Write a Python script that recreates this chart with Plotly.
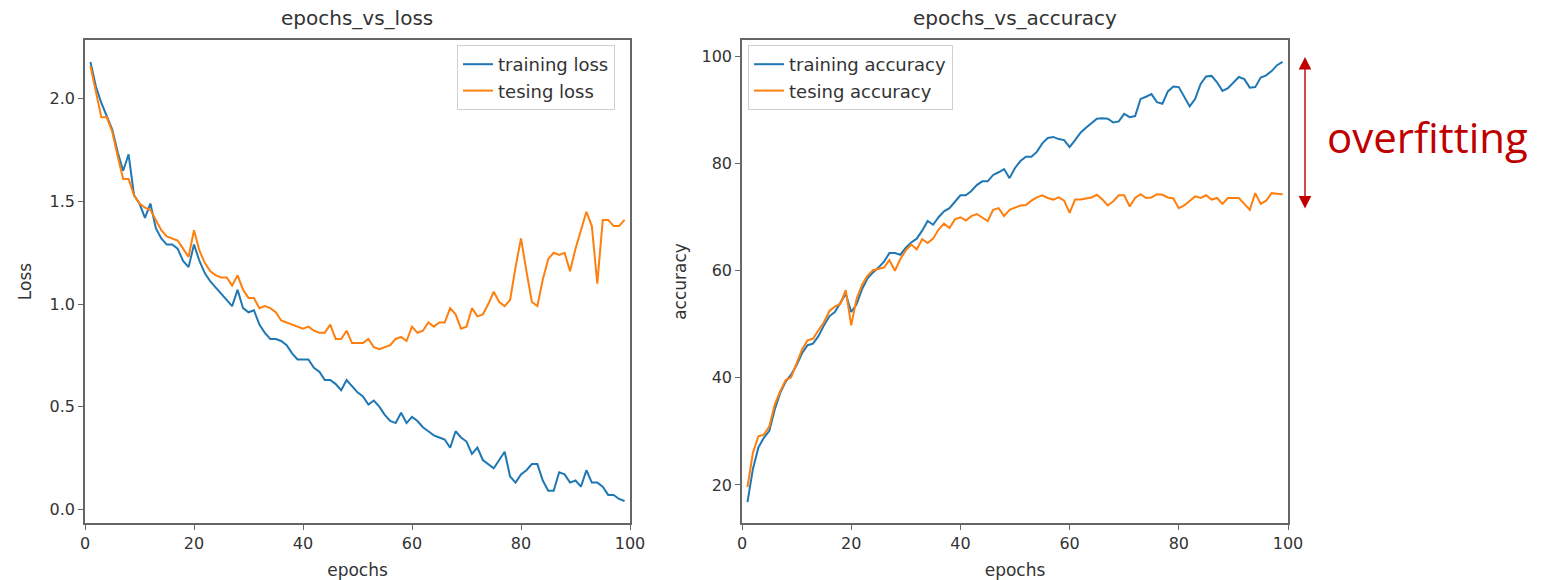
import plotly.graph_objects as go

epochs = list(range(1, 100))

train_loss = [2.18, 2.06, 1.98, 1.91, 1.85, 1.74, 1.65, 1.73, 1.53, 1.49,
              1.42, 1.49, 1.37, 1.32, 1.29, 1.29, 1.27, 1.21, 1.18, 1.29,
              1.21, 1.15, 1.11, 1.08, 1.05, 1.02, 0.99, 1.07, 0.98, 0.96,
              0.97, 0.90, 0.86, 0.83, 0.83, 0.82, 0.80, 0.76, 0.73, 0.73,
              0.73, 0.69, 0.67, 0.63, 0.63, 0.61, 0.58, 0.63, 0.60, 0.57,
              0.55, 0.51, 0.53, 0.50, 0.46, 0.43, 0.42, 0.47, 0.42, 0.45,
              0.43, 0.40, 0.38, 0.36, 0.35, 0.34, 0.30, 0.38, 0.35, 0.33,
              0.27, 0.30, 0.24, 0.22, 0.20, 0.24, 0.28, 0.16, 0.13, 0.17,
              0.19, 0.22, 0.22, 0.14, 0.09, 0.09, 0.18, 0.17, 0.13, 0.14,
              0.11, 0.19, 0.13, 0.13, 0.11, 0.07, 0.07, 0.05, 0.04]

test_loss = [2.16, 2.03, 1.91, 1.91, 1.84, 1.72, 1.61, 1.61, 1.53, 1.49,
             1.47, 1.46, 1.41, 1.36, 1.33, 1.32, 1.31, 1.27, 1.23, 1.36,
             1.26, 1.20, 1.16, 1.14, 1.13, 1.13, 1.09, 1.14, 1.07, 1.03,
             1.03, 0.98, 0.99, 0.98, 0.96, 0.92, 0.91, 0.90, 0.89, 0.88,
             0.89, 0.87, 0.86, 0.86, 0.90, 0.83, 0.83, 0.87, 0.81, 0.81,
             0.81, 0.83, 0.79, 0.78, 0.79, 0.80, 0.83, 0.84, 0.82, 0.89,
             0.86, 0.87, 0.91, 0.89, 0.91, 0.91, 0.98, 0.95, 0.88, 0.89,
             0.98, 0.94, 0.95, 1.00, 1.06, 1.01, 0.99, 1.02, 1.18, 1.32,
             1.16, 1.01, 0.99, 1.12, 1.22, 1.25, 1.24, 1.25, 1.16, 1.27,
             1.36, 1.45, 1.38, 1.10, 1.41, 1.41, 1.38, 1.38, 1.41]

train_acc = [16.8, 23.0, 27.0, 28.8, 30.1, 34.1, 37.2, 39.3, 40.6, 42.4,
             44.6, 46.1, 46.4, 47.8, 49.8, 51.5, 52.3, 54.1, 55.7, 52.3,
             53.8, 56.6, 58.6, 59.7, 60.6, 61.7, 63.3, 63.3, 63.0, 64.3,
             65.3, 66.0, 67.5, 69.3, 68.6, 70.0, 71.1, 71.7, 73.0, 74.1,
             74.1, 74.9, 76.0, 76.7, 76.7, 77.9, 78.4, 79.0, 77.3, 79.2,
             80.5, 81.3, 81.3, 82.2, 83.8, 84.8, 85.0, 84.6, 84.4, 83.1,
             84.4, 85.8, 86.7, 87.5, 88.4, 88.5, 88.4, 87.7, 87.9, 89.3,
             88.7, 88.9, 92.1, 92.5, 93.0, 91.5, 91.2, 93.5, 94.4, 94.3,
             92.4, 90.7, 92.1, 94.9, 96.3, 96.4, 95.2, 93.6, 94.1, 95.2,
             96.2, 95.8, 94.2, 94.3, 96.1, 96.5, 97.3, 98.4, 99.0]

test_acc = [19.6, 26.0, 29.1, 29.4, 30.9, 35.0, 37.5, 39.6, 40.1, 42.7,
            45.3, 47.0, 47.3, 48.9, 50.4, 52.5, 53.3, 53.8, 56.4, 49.8,
            54.8, 57.4, 59.1, 60.1, 60.4, 60.6, 62.0, 60.0, 62.2, 63.8,
            64.9, 64.0, 65.9, 65.2, 66.0, 67.7, 68.8, 68.0, 69.6, 70.0,
            69.4, 70.2, 70.6, 69.9, 69.3, 71.4, 71.7, 70.2, 71.4, 71.8,
            72.2, 72.3, 73.1, 73.7, 74.1, 73.6, 73.3, 73.7, 73.1, 70.8,
            73.3, 73.3, 73.5, 73.7, 74.2, 73.3, 72.2, 73.0, 74.1, 74.1,
            72.0, 73.6, 74.3, 73.6, 73.7, 74.3, 74.2, 73.7, 73.5, 71.7,
            72.2, 73.0, 73.9, 73.6, 74.1, 73.3, 73.6, 72.5, 73.6, 73.6,
            73.6, 72.5, 71.4, 74.5, 72.5, 73.1, 74.5, 74.4, 74.3]

x_ticks = [0, 20, 40, 60, 80, 100]
loss_ticks = [0.0, 0.5, 1.0, 1.5, 2.0]
acc_ticks = [20, 40, 60, 80, 100]

BLUE = "#1f77b4"
ORANGE = "#ff7f0e"
RED = "#C00000"
TXT = "#333333"
W, H = 1552, 580
FONT = "DejaVu Sans"

fig = go.Figure()
fig.add_trace(go.Scatter(x=epochs, y=train_loss, mode="lines", name="training loss",
                         line=dict(color=BLUE, width=2), xaxis="x", yaxis="y", legend="legend"))
fig.add_trace(go.Scatter(x=epochs, y=test_loss, mode="lines", name="tesing loss",
                         line=dict(color=ORANGE, width=2), xaxis="x", yaxis="y", legend="legend"))
fig.add_trace(go.Scatter(x=epochs, y=train_acc, mode="lines", name="training accuracy",
                         line=dict(color=BLUE, width=2), xaxis="x2", yaxis="y2", legend="legend2"))
fig.add_trace(go.Scatter(x=epochs, y=test_acc, mode="lines", name="tesing accuracy",
                         line=dict(color=ORANGE, width=2), xaxis="x2", yaxis="y2", legend="legend2"))

ydom = [1 - 523 / H, 1 - 40 / H]
axis_common = dict(showline=True, linecolor="#666", linewidth=1.5, mirror=True,
                   ticks="outside", ticklen=5, tickcolor="#666", showgrid=False,
                   zeroline=False, automargin=False,
                   tickfont=dict(family=FONT, size=16, color=TXT))
title_font = dict(family=FONT, size=17, color=TXT)
legend_font = dict(family=FONT, size=18, color=TXT)

fig.update_layout(
    width=W, height=H,
    margin=dict(l=0, r=0, t=0, b=0, autoexpand=False),
    paper_bgcolor="white", plot_bgcolor="white",
    font=dict(family=FONT, color=TXT),
    xaxis=dict(domain=[85 / W, 630 / W], range=[0, 100], tickvals=x_ticks,
               title=dict(text="epochs", font=title_font, standoff=12), anchor="y", **axis_common),
    yaxis=dict(domain=ydom, range=[-0.067, 2.287], tickvals=loss_ticks, tickformat=".1f",
               title=dict(text="Loss", font=title_font, standoff=14), anchor="x", **axis_common),
    xaxis2=dict(domain=[742 / W, 1288 / W], range=[0, 100], tickvals=x_ticks,
                title=dict(text="epochs", font=title_font, standoff=12), anchor="y2", **axis_common),
    yaxis2=dict(domain=ydom, range=[12.9, 103.1], tickvals=acc_ticks,
                title=dict(text="accuracy", font=title_font, standoff=11), anchor="x2", **axis_common),
    legend=dict(x=615 / W, y=1 - 45 / H, xanchor="right", yanchor="top",
                bgcolor="white", bordercolor="#d0d0d0", borderwidth=1, font=legend_font),
    legend2=dict(x=748 / W, y=1 - 45 / H, xanchor="left", yanchor="top",
                 bgcolor="white", bordercolor="#d0d0d0", borderwidth=1, font=legend_font),
    showlegend=True,
)

annotations = [
    dict(text="epochs_vs_loss", x=357 / W, y=1 - 18 / H, xref="paper", yref="paper",
         xanchor="center", yanchor="middle", showarrow=False,
         font=dict(family=FONT, size=20, color=TXT)),
    dict(text="epochs_vs_accuracy", x=1015 / W, y=1 - 18 / H, xref="paper", yref="paper",
         xanchor="center", yanchor="middle", showarrow=False,
         font=dict(family=FONT, size=20, color=TXT)),
    dict(text="overfitting", x=1325 / W, y=1 - 136 / H, xref="paper", yref="paper",
         xanchor="left", yanchor="middle", showarrow=False,
         font=dict(family="Open Sans", size=42, color=RED)),
    # double-headed arrow (head at top, start head at bottom)
    dict(x=1305 / W, y=1 - 57 / H, xref="paper", yref="paper",
         ax=0, ay=210 - 57, axref="pixel", ayref="pixel",
         text="", showarrow=True, arrowside="end+start",
         arrowhead=2, startarrowhead=2, arrowsize=1.8, startarrowsize=1.8,
         arrowwidth=1.4, arrowcolor=RED, standoff=0, startstandoff=0),
]
fig.update_layout(annotations=annotations)

fig.write_html("out.html",
               config={"displayModeBar": False},
               post_script="document.body.style.margin='0';document.body.style.overflow='hidden';")
